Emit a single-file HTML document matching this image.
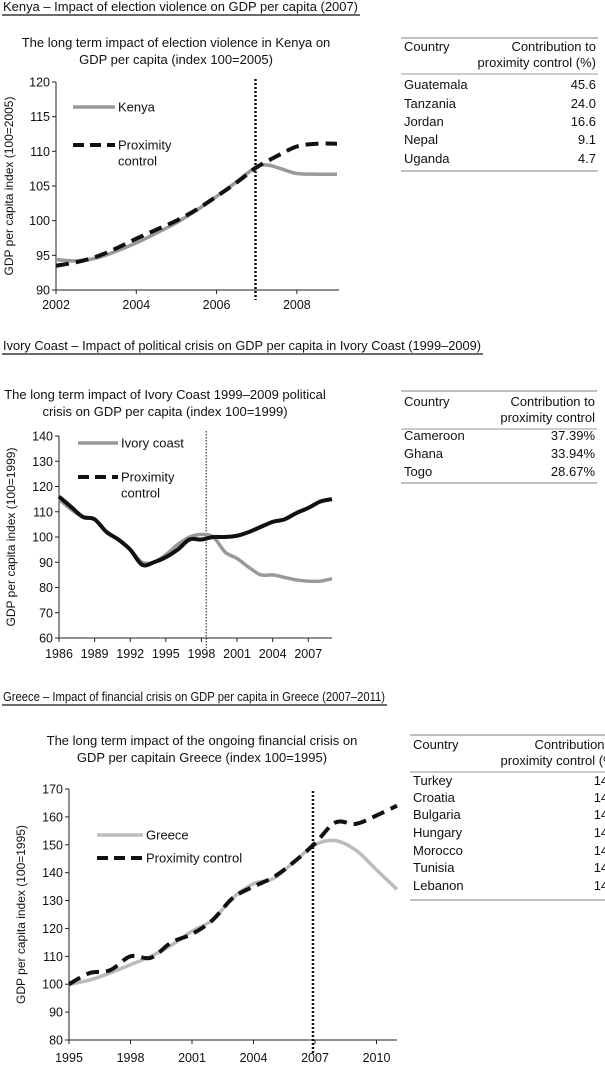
<!DOCTYPE html>
<html><head><meta charset="utf-8"><style>
html,body{margin:0;padding:0;background:#fff;width:605px;height:1071px;overflow:hidden}
svg{display:block;font-family:"Liberation Sans",Arial,sans-serif}
</style></head><body>
<svg id="s" width="605" height="1071" viewBox="0 0 605 1071"></svg>
<script>
// ---- Chart data ----
const kenyaYears = [2002,2002.5,2003,2003.5,2004,2004.5,2005,2005.5,2006,2006.5,2007,2007.3,2007.6,2008,2008.5,2009];
const kenyaVals  = [94.4,94.2,94.6,95.6,96.8,98.2,99.7,101.5,103.5,105.6,107.8,108.0,107.5,106.8,106.7,106.7];
const kenyaPxYears = [2002,2002.5,2003,2003.5,2004,2004.5,2005,2005.5,2006,2006.5,2007,2007.5,2008,2008.5,2009];
const kenyaPxVals  = [93.5,94.0,94.8,96.0,97.4,98.7,100.0,101.6,103.5,105.5,107.7,109.3,110.7,111.1,111.1];
const kenyaXTicks = [2002,2004,2006,2008];
const kenyaYTicks = [90,95,100,105,110,115,120];

const icYears = [1986,1987,1988,1989,1990,1991,1992,1993,1994,1995,1996,1997,1998,1999,2000,2001,2002,2003,2004,2005,2006,2007,2008,2009];
const icVals  = [115,111,108,107,102,99,95,90,90,93,97,100,101,100,94,91.5,88,85,85,84,83,82.5,82.5,83.5];
const icPxVals = [116,112,108,107,102,99,95,89,90,92,95,99,99,100,100,100.5,102,104,106,107,109.5,111.5,114,115];
const icXTicks = [1986,1989,1992,1995,1998,2001,2004,2007];
const icYTicks = [60,70,80,90,100,110,120,130,140];

const grYears = [1995,1996,1997,1998,1999,2000,2001,2002,2003,2004,2005,2006,2007,2008,2009,2010,2011];
const grVals  = [100,101.5,104,107,110,114,119,123,131,136,138,144,150,151.5,148,141,134];
const grPxVals = [100,104,105,110,109.5,115,118,123,131,135,138.5,144,150.5,158,157.5,160.5,164];
const grXTicks = [1995,1998,2001,2004,2007,2010];
const grYTicks = [80,90,100,110,120,130,140,150,160,170];

const NS="http://www.w3.org/2000/svg";
const svg=document.getElementById('s');
function mk(tag,attrs,parent){const e=document.createElementNS(NS,tag);for(const k in attrs)e.setAttribute(k,attrs[k]);(parent||svg).appendChild(e);return e;}
function txt(x,y,s,size,anchor,parent){const t=mk('text',{x:x,y:y,'font-size':size,'text-anchor':anchor||'start',fill:'#111'},parent);t.textContent=s;return t;}
function smooth(pts){let d='M'+pts[0][0]+','+pts[0][1];for(let i=0;i<pts.length-1;i++){const p0=pts[i-1]||pts[i],p1=pts[i],p2=pts[i+1],p3=pts[i+2]||p2;const c1x=p1[0]+(p2[0]-p0[0])/6,c1y=p1[1]+(p2[1]-p0[1])/6,c2x=p2[0]-(p3[0]-p1[0])/6,c2y=p2[1]-(p3[1]-p1[1])/6;d+=' C'+c1x+','+c1y+' '+c2x+','+c2y+' '+p2[0]+','+p2[1];}return d;}

function chart(cfg){
  const g=mk('g',{});
  
  
  const X=v=>cfg.x0+(v-cfg.xmin)/(cfg.xmax-cfg.xmin)*(cfg.x1-cfg.x0);
  const Y=v=>cfg.y1+(v-cfg.ymin)/(cfg.ymax-cfg.ymin)*(cfg.y0-cfg.y1);
  cfg.title.forEach((l,i)=>{const t=txt(cfg.tx,cfg.ty+i*17,l,13,'middle',g);
    
    });
  const ax=mk('path',{d:`M${cfg.x0},${cfg.y0} V${cfg.y1} H${cfg.x1}`,stroke:'#222','stroke-width':1,fill:'none'},g);
  
  
  cfg.yt.forEach(v=>{mk('line',{x1:cfg.x0-4,x2:cfg.x0,y1:Y(v),y2:Y(v),stroke:'#222'},g);
    const t=txt(cfg.x0-6,Y(v)+4.5,String(v),12.5,'end',g);
    
    });
  cfg.xt.forEach(v=>{mk('line',{x1:X(v),x2:X(v),y1:cfg.y1,y2:cfg.y1+4,stroke:'#222'},g);
    const t=txt(X(v),cfg.y1+cfg.xlo,String(v),12.5,'middle',g);
    
    });
  const yt=txt(0,0,cfg.ytitle,12,'middle',g);
  yt.setAttribute('transform',`translate(${cfg.ytx},${(cfg.y0+cfg.y1)/2}) rotate(-90)`);
  
  
  const ev=mk('line',{x1:X(cfg.ev),x2:X(cfg.ev),y1:cfg.evy0,y2:cfg.evy1,stroke:'#111','stroke-width':cfg.evw,'stroke-dasharray':cfg.evw>2?'2,2':'1.5,1.5'},g);
  
  
  const p1=mk('path',{d:smooth(cfg.sx.map((x,i)=>[X(x),Y(cfg.s1[i])])),stroke:cfg.c1,'stroke-width':3.5,fill:'none'},g);
  
  
  const p2=mk('path',{d:smooth((cfg.sx2||cfg.sx).map((x,i)=>[X(x),Y(cfg.s2[i])])),stroke:'#111','stroke-width':4,fill:'none','stroke-dasharray':cfg.dash2||'none'},g);
  
  
  const L=cfg.leg;
  const l1=mk('line',{x1:L.x,x2:L.x+L.w,y1:L.y1,y2:L.y1,stroke:cfg.c1,'stroke-width':3.5},g);
  
  
  const lt1=txt(L.x+L.w+3,L.y1+4.5,cfg.n1,13,'start',g);
  
  
  const l2=mk('line',{x1:L.x,x2:L.x+L.w,y1:L.y2,y2:L.y2,stroke:'#111','stroke-width':4,'stroke-dasharray':'11,6'},g);
  
  
  cfg.n2.forEach((s,i)=>{const t=txt(L.x+L.w+3,L.y2+4.5+i*16,s,13,'start',g);
    
    });
}

function heading(y,s,w){const t=txt(3,y,s,13,'start');
  t.setAttribute('textLength',w-5);
  t.setAttribute('lengthAdjust','spacingAndGlyphs');
  
  
  mk('line',{x1:2,x2:w,y1:y+4,y2:y+4,stroke:'#111','stroke-width':1.3});}

function table(x0,x1,top,h1,h2,hr,rows,rowY,bottom,name){
  const g=mk('g',{});
  
  
  mk('line',{x1:x0,x2:x1,y1:top,y2:top,stroke:'#999','stroke-width':1.3},g);
  txt(x0+3,h1,'Country',13,'start',g);
  txt(x1-2,h1,'Contribution to',13,'end',g);
  txt(x1-2,h2,hr,13,'end',g);
  mk('line',{x1:x0,x2:x1,y1:h2+7,y2:h2+7,stroke:'#999','stroke-width':1},g);
  rows.forEach((r,i)=>{txt(x0+3,rowY[i],r[0],13,'start',g);txt(x1-2,rowY[i],r[1],13,'end',g);});
  mk('line',{x1:x0,x2:x1,y1:bottom,y2:bottom,stroke:'#999','stroke-width':1.3},g);
}

heading(11,'Kenya \u2013 Impact of election violence on GDP per capita (2007)',360);
chart({name:'kenya-chart',title:['The long term impact of election violence in Kenya  on','GDP per capita (index 100=2005)'],tx:176,ty:47,
 x0:56,x1:339,xmin:2002,xmax:2009.05,y0:82,y1:290,ymin:90,ymax:120,xt:kenyaXTicks,yt:kenyaYTicks,xlo:19,
 ytitle:'GDP per capita index (100=2005)',ytx:13,ev:2006.97,evy0:79,evy1:300,evw:2.5,
 sx:kenyaYears,s1:kenyaVals,sx2:kenyaPxYears,s2:kenyaPxVals,c1:'#999',dash2:'13,7',n1:'Kenya',n2:['Proximity','control'],
 leg:{x:73,w:42,y1:107,y2:145}});
table(401,598,38,51,67,'proximity control (%)',[['Guatemala','45.6'],['Tanzania','24.0'],['Jordan','16.6'],['Nepal','9.1'],['Uganda','4.7']],[89,108,126,144,163],171,'kenya-table');

heading(350,'Ivory Coast \u2013 Impact of political crisis on GDP per capita in Ivory Coast (1999\u20132009)',483);
chart({name:'ivory-coast-chart',title:['The long term impact of Ivory Coast 1999\u20132009 political','crisis on GDP per capita (index 100=1999)'],tx:165,ty:399,
 x0:59,x1:332,xmin:1986,xmax:2009,y0:436,y1:638,ymin:60,ymax:140,xt:icXTicks,yt:icYTicks,xlo:20,
 ytitle:'GDP per capita index (100=1999)',ytx:15,ev:1998.4,evy0:431,evy1:648,evw:1,
 sx:icYears,s1:icVals,s2:icPxVals,c1:'#999',n1:'Ivory coast',n2:['Proximity','control'],
 leg:{x:78,w:40,y1:443,y2:477}});
table(401,597,391,406,422,'proximity control',[['Cameroon','37.39%'],['Ghana','33.94%'],['Togo','28.67%']],[440,458,476],483,'ivory-coast-table');

heading(701,'Greece  \u2013 Impact of financial crisis on GDP per capita in Greece (2007\u20132011)',387);
chart({name:'greece-chart',title:['The long term impact of the ongoing financial crisis on','GDP per capitain Greece (index 100=1995)'],tx:202,ty:745,
 x0:69,x1:397,xmin:1995,xmax:2011,y0:789,y1:1040,ymin:80,ymax:170,xt:grXTicks,yt:grYTicks,xlo:22,
 ytitle:'GDP per capita index (100=1995)',ytx:25,ev:2006.9,evy0:791,evy1:1054,evw:2.5,
 sx:grYears,s1:grVals,s2:grPxVals,c1:'#bbb',dash2:'13,7',n1:'Greece',n2:['Proximity control'],
 leg:{x:97,w:46,y1:835,y2:858}});
table(410,621,735,749,765,'proximity control (%)',[['Turkey','14.3'],['Croatia','14.3'],['Bulgaria','14.3'],['Hungary','14.3'],['Morocco','14.3'],['Tunisia','14.3'],['Lebanon','14.3']],[785,802,819,837,855,872,890],900,'greece-table');
</script>
</body></html>
